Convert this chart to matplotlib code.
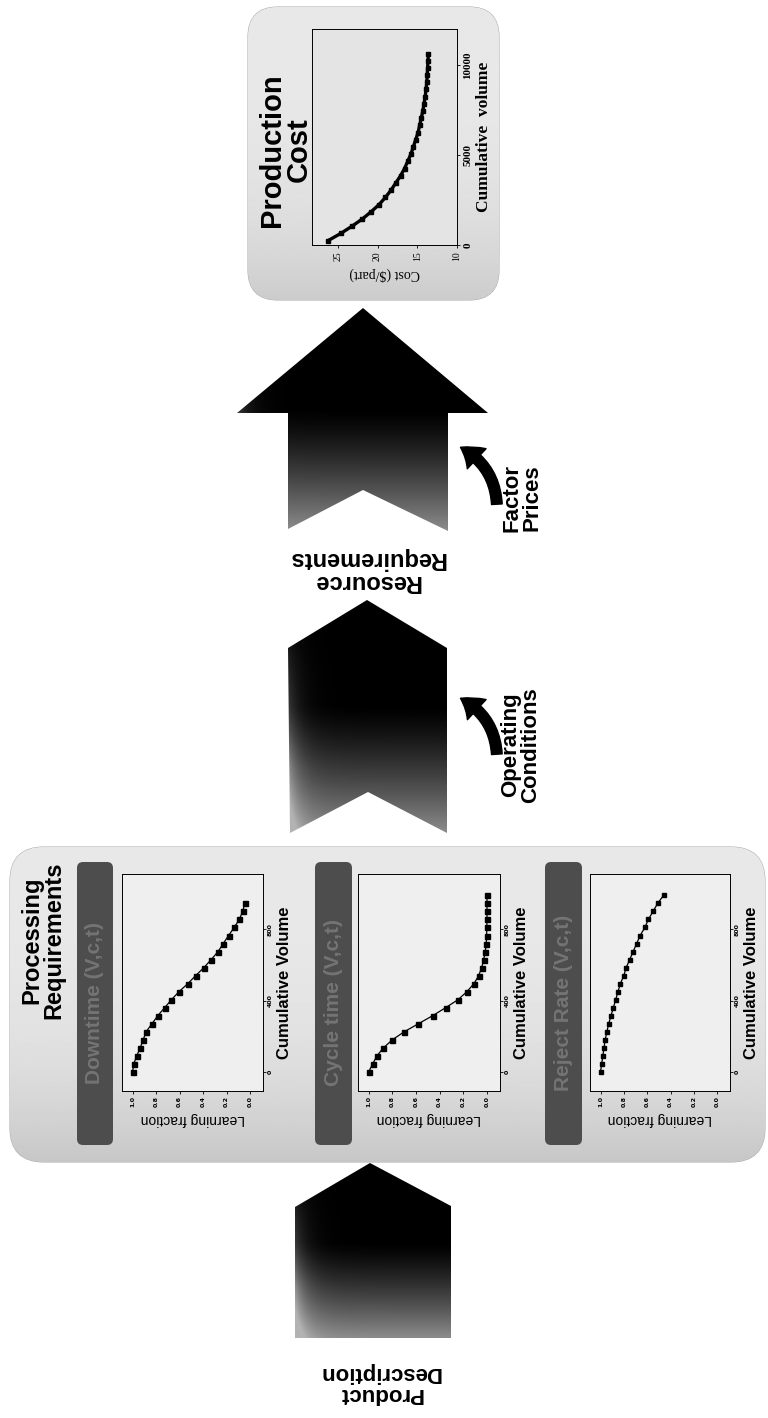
import numpy as np
import matplotlib
matplotlib.use('Agg')
import matplotlib.pyplot as plt
from matplotlib.patches import Polygon, FancyBboxPatch, FancyArrowPatch

# learning curves (cumulative volume vs learning fraction)
volume = [0, 45, 90, 135, 180, 225, 270, 315, 360, 405, 450, 495, 540,
          585, 630, 675, 720, 765, 810, 855, 900, 945, 990]
frac_downtime = [1.00, 0.99, 0.965, 0.935, 0.91, 0.885, 0.835, 0.786, 0.727,
                 0.669, 0.605, 0.53, 0.463, 0.393, 0.331, 0.272, 0.228, 0.183,
                 0.135, 0.092, 0.063, 0.045]
frac_cycle = [1.00, 0.966, 0.93, 0.875, 0.80, 0.70, 0.58, 0.46, 0.35, 0.245,
              0.17, 0.11, 0.07, 0.045, 0.028, 0.014, 0.006, 0.003, 0.001,
              0.0, 0.0, 0.0, 0.0]
frac_reject = [1.00, 0.99, 0.98, 0.97, 0.96, 0.945, 0.93, 0.91, 0.89, 0.87,
               0.85, 0.83, 0.80, 0.78, 0.75, 0.72, 0.69, 0.66, 0.62, 0.59,
               0.55, 0.51, 0.46]
panel_titles = ['Downtime (V,c,t)', 'Cycle time (V,c,t)', 'Reject Rate (V,c,t)']

# production cost curve
cost_volume = [250, 650, 1050, 1450, 1850, 2250, 2650, 3050, 3450, 3850,
               4250, 4650, 5050, 5450, 5850, 6250, 6650, 7050, 7450, 7850,
               8250, 8650, 9050, 9450, 9850, 10250, 10600]
cost = [26.2, 24.6, 23.2, 21.9, 20.8, 19.8, 19.0, 18.3, 17.7, 17.1, 16.6,
        16.2, 15.8, 15.5, 15.2, 14.9, 14.7, 14.5, 14.3, 14.15, 14.0, 13.9,
        13.8, 13.75, 13.7, 13.65, 13.6]

W, H = 768, 1418
fig = plt.figure(figsize=(W / 100, H / 100), dpi=100)
fig.patch.set_facecolor('white')
bg = fig.add_axes([0, 0, 1, 1])
bg.set_xlim(0, W)
bg.set_ylim(H, 0)
bg.axis('off')

SANS = ['Liberation Sans', 'DejaVu Sans']
SERIF = ['Liberation Serif', 'DejaVu Serif']


def gradient_patch(patch, x0, x1, y0, y1, img, z):
    bg.add_patch(patch)
    im = bg.imshow(img, extent=(x0, x1, y1, y0), cmap='gray', vmin=0, vmax=1,
                   aspect='auto', interpolation='bilinear', zorder=z)
    im.set_clip_path(patch)


def arrow_shape(verts, z=3):
    xs = [v[0] for v in verts]
    ys = [v[1] for v in verts]
    x0, x1, y0, y1 = min(xs), max(xs), min(ys), max(ys)
    gx, gy = np.meshgrid(np.linspace(0, 1, 200), np.linspace(0, 1, 300))
    val = np.clip((gy - 0.45) / 0.55, 0, 1) ** 1.3 * 0.55
    val = val + 0.35 * np.exp(-gx * (x1 - x0) / 12) * np.clip(gy * 1.4, 0, 1)
    val = np.clip(val, 0, 0.7)
    poly = Polygon(verts, closed=True, facecolor='none', edgecolor='none')
    gradient_patch(poly, x0, x1, y0, y1, val, z)


def rounded_box(x0, y0, x1, y1, r, top, bottom, z=1):
    box = FancyBboxPatch((x0, y0), x1 - x0, y1 - y0,
                         boxstyle='round,pad=0,rounding_size=%d' % r,
                         facecolor='none', edgecolor='#b0b0b0', lw=0.8)
    gy = np.linspace(0, 1, 200)[:, None] * np.ones((1, 50))
    val = top + (bottom - top) * gy ** 3
    gradient_patch(box, x0, x1, y0, y1, val, z)


# boxes
rounded_box(248, 7, 499, 300, 30, 0.91, 0.80)
rounded_box(10, 847, 765, 1162, 34, 0.91, 0.78)

# block arrows
arrow_shape([(370, 1163), (451, 1206), (451, 1338), (295, 1338), (295, 1207)])
arrow_shape([(367, 600), (447, 648), (447, 833), (368, 792), (290, 833), (288, 648)])
arrow_shape([(363, 308), (488, 413), (448, 413), (448, 531), (363, 490),
             (288, 529), (288, 413), (237, 413)])

# curved side arrows
for tail, head in [((497, 757), (458, 697)), ((497, 507), (458, 446))]:
    bg.add_patch(FancyArrowPatch(tail, head, connectionstyle='arc3,rad=0.3',
                                 arrowstyle='simple,head_length=1.3,head_width=1.8,tail_width=0.7',
                                 mutation_scale=11, color='black', zorder=4))

# labels
bg.text(380, 1383, 'Product\nDescription', rotation=180, ha='center', va='center',
        fontsize=16, fontweight='bold', family=SANS, linespacing=1.0)
bg.text(367, 570, 'Resource\nRequirements', rotation=180, ha='center', va='center',
        fontsize=17, fontweight='bold', family=SANS, linespacing=1.0)
bg.text(521, 745, 'Operating\nConditions', rotation=90, ha='center', va='center',
        fontsize=16, fontweight='bold', family=SANS, linespacing=0.95)
bg.text(522, 498, 'Factor\nPrices', rotation=90, ha='center', va='center',
        fontsize=16, fontweight='bold', family=SANS, linespacing=0.95)
bg.text(285, 150, 'Production\nCost', rotation=90, ha='center', va='center',
        fontsize=21, fontweight='bold', family=SANS, linespacing=0.95)
bg.text(43, 940, 'Processing\nRequirements', rotation=90, ha='center', va='center',
        fontsize=17, fontweight='bold', family=SANS, linespacing=0.95)


def fig_rect(x0, y0, x1, y1):
    return [x0 / W, 1 - y1 / H, (x1 - x0) / W, (y1 - y0) / H]


# learning-curve panels
headers = [(77, 113), (315, 352), (545, 582)]
frames = [(122, 263), (358, 500), (590, 730)]
curves = [(frac_downtime, 3.6), (frac_cycle, 3.6), (frac_reject, 2.6)]
for (hx0, hx1), (ax0, ax1), (frac, ms), title in zip(headers, frames, curves, panel_titles):
    hb = FancyBboxPatch((hx0, 862), hx1 - hx0, 1145 - 862,
                        boxstyle='round,pad=0,rounding_size=6',
                        facecolor='#4d4d4d', edgecolor='none', zorder=2)
    bg.add_patch(hb)
    bg.text((hx0 + hx1) / 2, 1003, title, rotation=90, ha='center', va='center',
            fontsize=15, fontweight='bold', color='#747474', family=SANS, zorder=3)

    ax = fig.add_axes(fig_rect(ax0, 874, ax1, 1091))
    ax.set_facecolor('#efefef')
    ax.plot(frac, volume[:len(frac)], color='black', lw=0.9, marker='s', ms=ms)
    ax.set_xlim(1.09, -0.11)
    ax.set_ylim(-107, 1110)
    ax.set_xticks([1.0, 0.8, 0.6, 0.4, 0.2, 0.0])
    ax.set_xticklabels(['1.0', '0.8', '0.6', '0.4', '0.2', '0.0'], rotation=90,
                       fontsize=4.5, fontweight='bold')
    ax.set_yticks([0, 400, 800])
    ax.set_yticklabels(['0', '400', '800'], rotation=90, va='center',
                       fontsize=4.5, fontweight='bold')
    ax.yaxis.tick_right()
    ax.yaxis.set_label_position('right')
    ax.tick_params(length=2, width=0.6, pad=1.5)
    ax.set_xlabel('Learning fraction', rotation=180, fontsize=10, family=SANS,
                  labelpad=4)
    ax.set_ylabel('Cumulative Volume', rotation=90, fontsize=12, fontweight='bold',
                  family=SANS, labelpad=3)
    for s in ax.spines.values():
        s.set_linewidth(0.7)

# production cost panel
cx = fig.add_axes(fig_rect(312, 29, 457, 245))
cx.set_facecolor('#e4e4e4')
cx.plot(cost, cost_volume, color='black', lw=2.4, marker='s', ms=2.6)
cx.set_xlim(28.25, 10)
cx.set_ylim(0, 12000)
cx.set_xticks([25, 20, 15, 10])
cx.set_xticklabels(['25', '20', '15', '10'], rotation=90, fontsize=7, family=SERIF)
cx.set_yticks([0, 5000, 10000])
cx.set_yticklabels(['0', '5000', '10000'], rotation=90, va='center', fontsize=8,
                   fontweight='bold', family=SERIF)
cx.yaxis.tick_right()
cx.yaxis.set_label_position('right')
cx.tick_params(length=2.5, width=0.6, pad=2)
cx.set_xlabel('Cost ($/part)', rotation=180, fontsize=10, family=SERIF, labelpad=4)
cx.set_ylabel('Cumulative  volume', rotation=90, fontsize=12.5, fontweight='bold',
              family=SERIF, labelpad=3)
for s in cx.spines.values():
    s.set_linewidth(0.7)

fig.savefig('out.png', dpi=100)
